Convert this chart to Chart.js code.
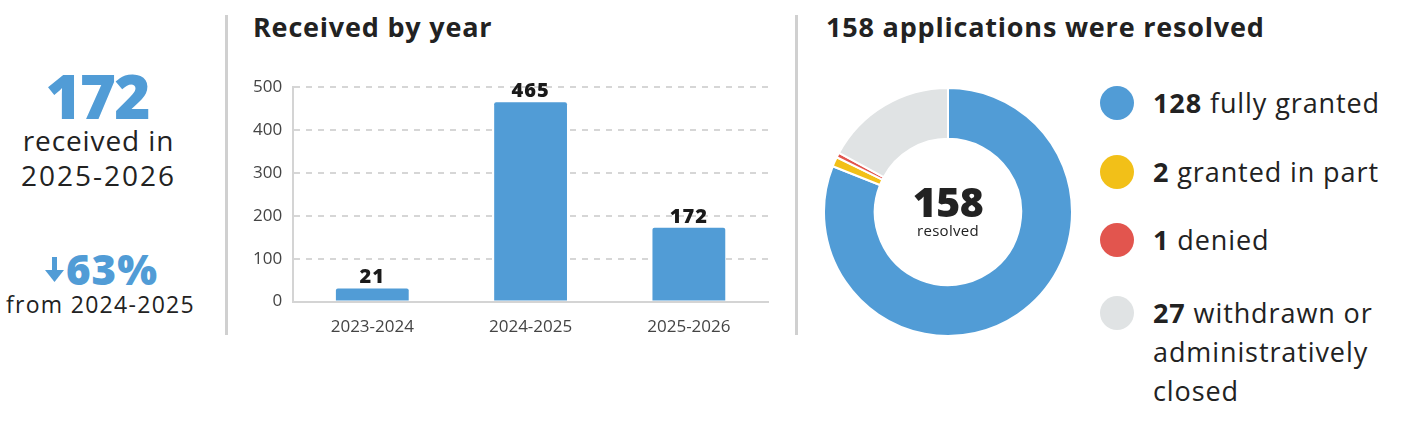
<!DOCTYPE html>
<html>
<head>
<meta charset="utf-8">
<script src="https://cdn.jsdelivr.net/npm/chart.js@4"></script>
<style>
  body { margin: 0; background: #fff; font-family: "Open Sans", Lato, sans-serif; color: #222; }
  #page { position: relative; width: 1406px; height: 427px; overflow: hidden; }
  .sep { position: absolute; top: 15px; width: 3px; height: 320px; background: #d0d0d0; }
  .abs { position: absolute; }
  .center { text-align: center; white-space: nowrap; }
  .title { font-size: 27px; font-weight: 700; color: #222; white-space: nowrap; letter-spacing: 0.8px; }
  .legend-item { position: absolute; left: 1100px; display: flex; align-items: flex-start; }
  .dot { width: 34px; height: 34px; border-radius: 50%; margin-right: 19px; flex: none; }
  .ltext { font-size: 27px; line-height: 39px; color: #222; margin-top: -3px; white-space: nowrap; letter-spacing: 0.9px; }
  .ltext b { font-weight: 700; }
</style>
</head>
<body>
<div id="page">
  <!-- left summary -->
  <div class="abs center" style="left:0; width:194px; top:56px; font-size:62px; font-weight:800; color:#519cd6; line-height:78px; letter-spacing:-2px;">172</div>
  <div class="abs center" style="left:0; width:197px; top:122px; font-size:28px; line-height:36px; letter-spacing:0.9px;">received in</div>
  <div class="abs center" style="left:0; width:197px; top:157px; font-size:28px; line-height:36px; letter-spacing:2px;">2025-2026</div>
  <svg class="abs" style="left:45px; top:257px;" width="19" height="25" viewBox="0 0 19 25">
    <rect x="7" y="0" width="5" height="15" fill="#519cd6"/>
    <polygon points="0,13 19,13 9.5,25" fill="#519cd6"/>
  </svg>
  <div class="abs" style="left:66px; top:241px; font-size:42px; font-weight:800; color:#519cd6; line-height:56px; letter-spacing:1px;">63%</div>
  <div class="abs center" style="left:0; width:201px; top:288px; font-size:23px; line-height:32px; letter-spacing:1.3px;">from 2024-2025</div>

  <div class="sep" style="left:225px;"></div>
  <div class="sep" style="left:795px;"></div>

  <div class="abs title" style="left:253px; top:8px;">Received by year</div>
  <div class="abs" style="left:236px; top:66px; width:540px; height:278px;"><canvas id="barChart"></canvas></div>

  <div class="abs title" style="left:826px; top:8px;">158 applications were resolved</div>
  <div class="abs" style="left:823px; top:87px; width:250px; height:250px;"><canvas id="pieChart"></canvas></div>
  <div class="abs center" style="left:873px; width:150px; top:175px; font-size:41px; font-weight:800; line-height:52px; letter-spacing:-0.5px;">158</div>
  <div class="abs center" style="left:873px; width:150px; top:220px; font-size:15px; line-height:20px; letter-spacing:0.3px;">resolved</div>

  <div id="legend"></div>
</div>
<script>
const years = ["2023-2024", "2024-2025", "2025-2026"];
const received = [21, 465, 172];
const yTicks = [0, 100, 200, 300, 400, 500];

const outcomeCounts = [128, 2, 1, 27];
const outcomeLabels = ["fully granted", "granted in part", "denied", "withdrawn or<br>administratively<br>closed"];
const outcomeColors = ["#519cd6", "#f2c018", "#e2554e", "#e0e3e4"];
const legendTops = [86, 155, 223, 296];

const blue = "#519cd6";

// value labels above bars
const barValues = {
  id: "barValues",
  afterDatasetsDraw(chart) {
    const ctx = chart.ctx;
    const meta = chart.getDatasetMeta(0);
    ctx.save();
    ctx.font = "800 20px 'Open Sans'";
    ctx.letterSpacing = "1px";
    ctx.fillStyle = "#1a1a1a";
    ctx.textAlign = "center";
    ctx.textBaseline = "bottom";
    meta.data.forEach(function(bar, i) {
      ctx.fillText(chart.data.datasets[0].data[i], bar.x, bar.y - 1);
    });
    ctx.restore();
  }
};

new Chart(document.getElementById("barChart"), {
  type: "bar",
  data: {
    labels: years,
    datasets: [{
      data: received,
      backgroundColor: blue,
      borderRadius: { topLeft: 2, topRight: 2 },
      borderSkipped: "bottom",
      categoryPercentage: 1,
      barPercentage: 0.46,
      minBarLength: 13
    }]
  },
  options: {
    responsive: true,
    maintainAspectRatio: false,
    animation: false,
    layout: { padding: { top: 10, right: 8, left: 6 } },
    plugins: { legend: { display: false }, tooltip: { enabled: false } },
    scales: {
      x: {
        grid: { display: false },
        border: { color: "#d4d4d4", width: 2 },
        ticks: { color: "#444", font: { family: "Open Sans", size: 17 }, padding: 7 }
      },
      y: {
        min: 0,
        max: 500,
        afterBuildTicks(axis) { axis.ticks = yTicks.map(v => ({ value: v })); },
        grid: { color: "#d6d6d6", lineWidth: 2, drawTicks: false },
        border: { color: "#d4d4d4", width: 2, dash: [6, 6] },
        ticks: { color: "#444", font: { family: "Open Sans", size: 17 }, padding: 11 }
      }
    }
  },
  plugins: [barValues]
});

new Chart(document.getElementById("pieChart"), {
  type: "doughnut",
  data: {
    labels: outcomeLabels,
    datasets: [{
      data: outcomeCounts,
      backgroundColor: outcomeColors,
      borderColor: "#fff",
      borderWidth: 2
    }]
  },
  options: {
    responsive: true,
    maintainAspectRatio: false,
    animation: false,
    cutout: "59%",
    plugins: { legend: { display: false }, tooltip: { enabled: false } }
  }
});

// html legend
const legend = document.getElementById("legend");
outcomeCounts.forEach(function(n, i) {
  const item = document.createElement("div");
  item.className = "legend-item";
  item.style.top = legendTops[i] + "px";
  item.innerHTML = '<div class="dot" style="background:' + outcomeColors[i] + '"></div>' +
    '<div class="ltext"><b>' + n + '</b> ' + outcomeLabels[i] + '</div>';
  legend.appendChild(item);
});
</script>
</body>
</html>
